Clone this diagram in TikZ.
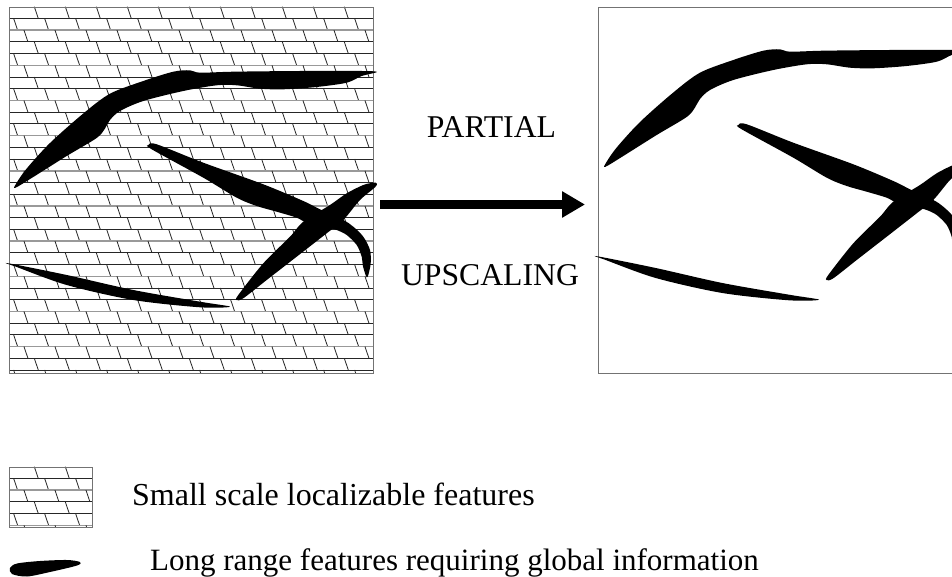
\documentclass[tikz,border=0pt]{standalone}
\usepackage{fontspec}
\setmainfont{Liberation Serif}
\usetikzlibrary{arrows.meta}
\tikzset{
  panelbox/.style={draw=black!55, line width=1.3pt, inner sep=0pt, anchor=north west},
  brickline/.style={draw=black!85, line width=0.9pt},
  brickgray/.style={draw=black!40, line width=1.5pt},
  brickslant/.style={draw=black!85, line width=0.8pt},
  feature/.style={fill=black, draw=none},
  lbl/.style={font=\fontsize{31.7}{38}\selectfont, inner sep=0pt},
  legendlbl/.style={inner sep=0pt, anchor=base west},
  bigarrow/.style={line width=9pt, -{Triangle[length=23pt,width=25pt]}},
}
\newcommand{\brickfill}[6]{%
  \begin{scope}
    \clip (#1,#2) rectangle (#3,#4);
    \foreach \rr in {0,...,#5} {
      \pgfmathsetmacro{\ya}{#2+11.72*\rr}
      \pgfmathsetmacro{\yb}{\ya+11.72}
      \pgfmathsetmacro{\off}{3.3+10.33*mod(\rr,3)}
      \foreach \jj in {0,...,#6} {
        \draw[brickslant] ({\off+31*\jj},\ya) -- ({\off+31*\jj+4},\yb);
      }
      \pgfmathtruncatemacro{\gg}{mod(\rr+1,3)==2 ? 1 : 0}
      \ifnum\gg=1 \draw[brickgray] (#1,\yb) -- (#3,\yb); \else \draw[brickline] (#1,\yb) -- (#3,\yb); \fi
    }
  \end{scope}}
\newcommand{\topcurve}{\fill[feature] plot[smooth cycle, tension=0.5] coordinates {
  (15,188) (33.3,177) (66.7,156) (96.7,138) (105,128.5) (110,120) (120,111)
  (143.3,101) (183.3,91) (216.7,85.3) (236.7,85.3) (260,88.7) (283.3,89.3)
  (316.7,87) (346.7,82.7) (361.7,76) (377,72) (361.7,71) (300,71) (233.3,71.7)
  (200,72.7) (190,70.3) (173.3,71.7) (143.3,81) (110,93.7) (83.3,113.5)
  (50,143) (26.7,168.5) (16.7,182.7)};}
\newcommand{\armA}{\fill[feature] plot[smooth cycle, tension=0.5] coordinates {
  (148.3,145) (156.7,144.3) (203.3,162.7) (263.3,184.3) (303.3,201) (320,209.3)
  (343.3,220) (353.3,226.7) (363.3,236.7) (370,250) (370.7,263.3) (368.3,275)
  (366.7,277.3) (365,273.3) (362.7,265) (361.7,256.7) (356.7,245) (346.7,235)
  (336.7,230) (326.7,227.3) (306.7,222.7) (296.7,217.7) (276.7,211.7)
  (256.7,206) (236.7,197.7) (203.3,177.7) (151.7,149.3)};}
\newcommand{\armB}{\fill[feature] plot[smooth cycle, tension=0.5] coordinates {
  (236.7,300) (238.3,295) (263.3,263.3) (290,236.7) (303.3,221.7) (330,205)
  (346.7,193.3) (363.3,185) (373.3,182.7) (376.7,183.3) (375,187.3) (360,200)
  (343.3,220) (326.7,233.3) (296.7,256.7) (266.7,280) (243.3,298.3)};}
\newcommand{\lowstroke}{\fill[feature] plot[smooth cycle, tension=0.5] coordinates {
  (8.3,263.3) (66.7,275) (133.3,290) (200,301.7) (230,306.7) (200,307.3)
  (133.3,300) (66.7,285) (16.7,267)};}
\begin{document}
\begin{tikzpicture}[x=1pt, y=-1pt]
  \clip (0,0) rectangle (952,577);
  \fill[white] (0,0) rectangle (952,577);
  % left panel
  \brickfill{9}{6.7}{373}{373}{31}{12}
  \node[panelbox, minimum width=364pt, minimum height=366.3pt] (leftpanel) at (9,6.7) {};
  \topcurve
  \armA
  \armB
  \lowstroke
  % right panel
  \node[panelbox, minimum width=380pt, minimum height=366.3pt] (rightpanel) at (598,6.7) {};
  \begin{scope}[shift={(590,-21)}]
    \topcurve
  \end{scope}
  \begin{scope}[shift={(590,-20)}]
    \armA
    \armB
  \end{scope}
  \begin{scope}[shift={(589,-7)}]
    \lowstroke
  \end{scope}
  % arrow and labels
  \coordinate (arrowstart) at (380,204.5);
  \coordinate (arrowend) at (585,204.5);
  \draw[bigarrow] (arrowstart) -- (arrowend);
  \node[lbl, anchor=base] (partial) at (491.5,138) {PARTIAL};
  \node[lbl, anchor=base] (upscaling) at (490,285) {UPSCALING};
  % legend
  \brickfill{9}{466.7}{92}{526.5}{5}{3}
  \node[panelbox, minimum width=83pt, minimum height=59.8pt] (legendbox) at (9,466.7) {};
  \fill[feature] plot[smooth cycle, tension=0.5] coordinates {
    (10,568) (17,563.5) (40,561) (67,560) (80,562) (77,565.5) (50,572) (27,576.5) (12,574)};
  \node[legendlbl, font=\fontsize{32}{38}\selectfont] (legendone) at (132,505) {Small scale localizable features};
  \node[legendlbl, font=\fontsize{31}{37}\selectfont] (legendtwo) at (150,570) {Long range features requiring global information};
\end{tikzpicture}
\end{document}
